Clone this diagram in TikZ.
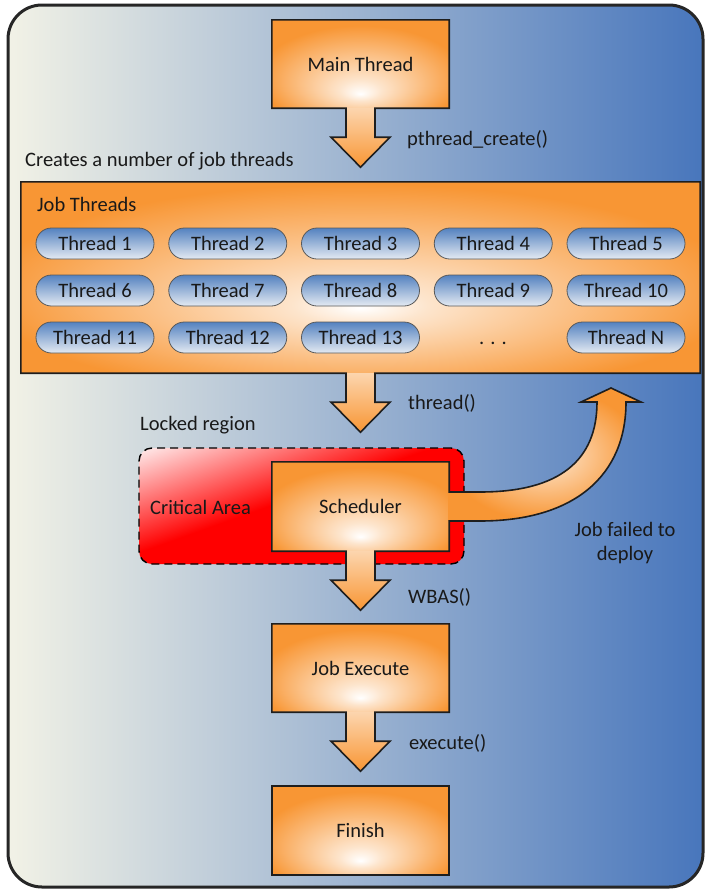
\documentclass[tikz,border=0pt]{standalone}
\usepackage{fontspec}
\setmainfont{Carlito}
\usetikzlibrary{calc}

\definecolor{bgL}{RGB}{242,242,230}
\definecolor{bgM}{RGB}{168,190,212}
\definecolor{bgR}{RGB}{72,118,188}
\definecolor{boxorange}{RGB}{248,150,52}
\colorlet{glowmid}{white!75!boxorange}
\definecolor{pillblue}{RGB}{84,130,192}
\definecolor{pilllight}{RGB}{228,234,242}
\definecolor{ink}{RGB}{25,25,25}
\definecolor{edge}{RGB}{30,30,30}

% glow near the lower middle of the orange boxes (box = central 50bp square)
\pgfdeclareradialshading{boxglow}{\pgfpoint{0bp}{-17bp}}{color(0bp)=(white); color(6bp)=(glowmid); color(29bp)=(boxorange); color(50bp)=(boxorange)}
\pgfdeclareradialshading{wideglow}{\pgfpoint{0bp}{-8bp}}{color(0bp)=(white); color(5bp)=(glowmid); color(28bp)=(boxorange); color(50bp)=(boxorange)}
% red lock area: fade along the box diagonal, pale only in the upper left corner
\pgfdeclarefunctionalshading{lockfade}{\pgfpointorigin}{\pgfpoint{100bp}{100bp}}{}{
  sub 50 add 45 div
  dup 1 gt {pop 1} if dup 0 lt {pop 0} if
  1 exch sub 0.93 mul dup 1 3 1 roll
}

% body of a downward block arrow hanging from an anchor
\newcommand\arrowbody[1]{($(#1)+(-14.5,0)$) -- ++(0,29) -- ++(-15,0) -- ++(29.5,30) -- ++(29.5,-30) -- ++(-15,0) -- ++(0,-29)}

\begin{document}
\begin{tikzpicture}[x=1pt,y=-1pt,
  font=\fontsize{20.5}{24}\selectfont,
  lbl/.style={inner sep=0pt, text=ink},
  box/.style={shading=boxglow, minimum width=177pt, inner sep=0pt, text=ink},
  pill/.style={rounded corners=15.5pt, draw=black!65, line width=0.8pt,
    top color=pillblue, bottom color=pilllight,
    minimum width=118pt, minimum height=31pt, inner sep=0pt, text=ink},
  arrowfill/.style={top color=boxorange!40!white, bottom color=boxorange},
  outline/.style={draw=edge, line width=1.6pt, line join=miter},
]
\useasboundingbox (0,0) rectangle (706,889);

% backdrop
\shade[left color=bgL, middle color=bgM, right color=bgR, rounded corners=34pt]
  (8,5) rectangle (703,887);
\draw[line width=3pt, rounded corners=34pt, draw=black!85] (8,5) rectangle (703,887);

% locked region
\node[name=crit, shading=lockfade, draw=black, dash pattern=on 8pt off 5pt,
  line width=1.4pt, rounded corners=13pt, minimum width=325pt, minimum height=116pt]
  at (301.5,506) {};

% main thread
\node[box, name=main, minimum height=88pt] at (360.5,64) {Main Thread};
\shade[arrowfill] \arrowbody{main.south} -- cycle;
\draw[outline] (main.south west) -- \arrowbody{main.south} -- (main.south east)
  -- (main.north east) -- (main.north west) -- cycle;

% job threads
\node[name=jobs, shading=wideglow, minimum width=679pt, minimum height=191pt, inner sep=0pt]
  at (360.5,277.5) {};
\shade[arrowfill] \arrowbody{jobs.south} -- cycle;
\draw[outline] (jobs.south west) -- \arrowbody{jobs.south} -- (jobs.south east)
  -- (jobs.north east) -- (jobs.north west) -- cycle;

\foreach \n/\c/\r in {1/1/1,2/2/1,3/3/1,4/4/1,5/5/1,
                      6/1/2,7/2/2,8/3/2,9/4/2,10/5/2,
                      11/1/3,12/2/3,13/3/3}
  \node[pill, name=t\n] at ({95+132.75*(\c-1)},{243.5+47*(\r-1)}) {Thread \n};
\node[pill, name=tN] at (626,337.5) {Thread N};
\node[lbl, name=dots, anchor=base] at (493,344) {.\hspace{6pt}.\hspace{6pt}.};

% scheduler with its two exits
\node[box, name=sched, minimum height=89pt] at (360.5,506.5) {Scheduler};
\coordinate (retry) at (611,388);
\shade[arrowfill] \arrowbody{sched.south} -- cycle;
\shade[inner color=boxorange!20!white, outer color=boxorange]
  ($(sched.east)+(-1,-14.5)$) -- (480,492) .. controls (560,492) and (597,460) .. ($(retry)+(-14,14)$)
  -- ($(retry)+(-30,14)$) -- (retry) -- ($(retry)+(30,14)$) -- ($(retry)+(15,14)$)
  .. controls (626,475) and (575,521) .. (480,521) -- ($(sched.east)+(-1,14.5)$) -- cycle;
\draw[outline] ($(sched.east)+(0,-14.5)$) -- (sched.north east) -- (sched.north west)
  -- (sched.south west) -- \arrowbody{sched.south} -- (sched.south east)
  -- ($(sched.east)+(0,14.5)$) -- (480,521) .. controls (575,521) and (626,475) .. ($(retry)+(15,14)$)
  -- ($(retry)+(30,14)$) -- (retry) -- ($(retry)+(-30,14)$) -- ($(retry)+(-14,14)$)
  .. controls (597,460) and (560,492) .. (480,492) -- cycle;

% job execute and finish
\node[box, name=exec, minimum height=88pt] at (360.5,668) {Job Execute};
\shade[arrowfill] \arrowbody{exec.south} -- cycle;
\draw[outline] (exec.south west) -- \arrowbody{exec.south} -- (exec.south east)
  -- (exec.north east) -- (exec.north west) -- cycle;

\node[box, name=finish, minimum height=89pt, outline] at (360.5,830.5) {Finish};

% labels
\node[lbl, anchor=west, name=lcreate] at (407,140) {pthread\_create()};
\node[lbl, anchor=west, name=lnumber] at (25,161) {Creates a number of job threads};
\node[lbl, anchor=west, name=ljobs] at (37,204) {Job Threads};
\node[lbl, anchor=west, name=lthread] at (408,403) {thread()};
\node[lbl, anchor=west, name=llocked] at (140,425) {Locked region};
\node[lbl, anchor=west, name=lcrit] at (150,507) {Critical Area};
\node[lbl, align=center, name=lfail] at (625,543) {Job failed to\\deploy};
\node[lbl, anchor=west, name=lwbas] at (408,597) {WBAS()};
\node[lbl, anchor=west, name=lexec] at (409,743) {execute()};
\end{tikzpicture}
\end{document}
